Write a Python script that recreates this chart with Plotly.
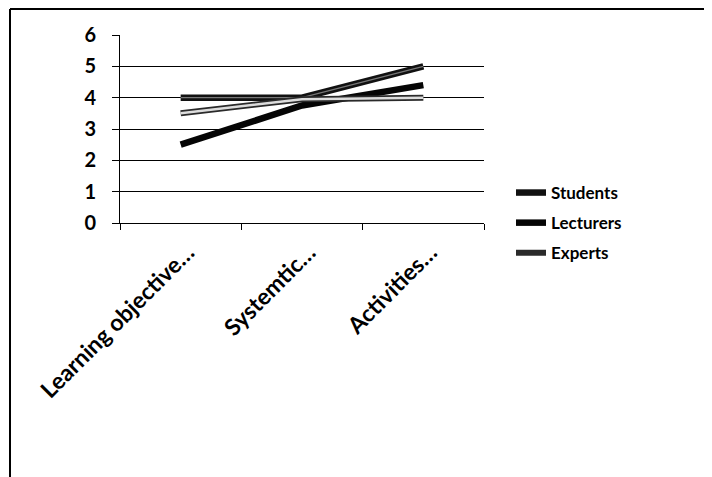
import plotly.graph_objects as go

categories = ["Learning objective…", "Systemtic…", "Activities…"]
students = [4.0, 4.0, 5.0]
lecturers = [2.5, 3.75, 4.4]
experts = [3.5, 3.95, 4.0]
y_ticks = [0, 1, 2, 3, 4, 5, 6]

FONT = "Lato"
OFF = 8  # page body margin
W, H = 712 - OFF, 477 - OFF
L, T = 120 - OFF, 35 - OFF
pw, ph = 364, 188
R, B = W - L - pw, H - T - ph

fig = go.Figure()
fig.add_trace(go.Scatter(x=categories, y=students, name="Students", mode="lines",
                         legendgroup="s", line=dict(color="#111111", width=6.5)))
fig.add_trace(go.Scatter(x=categories, y=students, showlegend=False, mode="lines",
                         legendgroup="s", line=dict(color="#777777", width=1.2), hoverinfo="skip"))
fig.add_trace(go.Scatter(x=categories, y=lecturers, name="Lecturers", mode="lines",
                         legendgroup="l", line=dict(color="#050505", width=6.5)))
fig.add_trace(go.Scatter(x=categories, y=experts, name="Experts", mode="lines",
                         legendgroup="e", line=dict(color="#2a2a2a", width=6)))
fig.add_trace(go.Scatter(x=categories, y=experts, showlegend=False, mode="lines",
                         legendgroup="e", line=dict(color="#dcdcdc", width=2.5), hoverinfo="skip"))

def px_x(p):
    return (p - OFF - L) / pw

def px_y(p):
    return (T + ph - (p - OFF)) / ph

fig.update_layout(
    width=W, height=H,
    margin=dict(l=L, r=R, t=T, b=B, autoexpand=False),
    paper_bgcolor="white", plot_bgcolor="white",
    font=dict(family=FONT, size=17, color="black"),
    showlegend=True,
    legend=dict(x=px_x(511), y=px_y(175), xanchor="left", yanchor="top",
                font=dict(family=FONT, size=17, color="black", weight="bold"),
                tracegroupgap=5, bgcolor="rgba(0,0,0,0)", itemwidth=30),
    xaxis=dict(type="category", range=[-0.5, 2.5], showgrid=False,
               showline=True, linecolor="black", linewidth=1,
               ticks="outside", tickson="boundaries", ticklen=6, tickcolor="black",
               tickangle=-45, ticklabelstandoff=6, ticklabelshift=7,
               tickfont=dict(family=FONT, size=23, weight="bold")),
    yaxis=dict(range=[0, 6], tickvals=y_ticks, showgrid=True, gridcolor="black", gridwidth=1,
               showline=True, linecolor="black", linewidth=1,
               ticks="outside", ticklen=7, tickcolor="black", zeroline=False,
               ticklabelstandoff=12,
               tickfont=dict(family=FONT, size=20, weight="bold")),
    shapes=[
        dict(type="line", xref="paper", yref="paper", x0=px_x(10), x1=px_x(10),
             y0=px_y(9), y1=px_y(477), line=dict(color="black", width=2)),
        dict(type="line", xref="paper", yref="paper", x0=px_x(10), x1=px_x(712),
             y0=px_y(9), y1=px_y(9), line=dict(color="black", width=2)),
    ],
)

fig.write_html("out.html")
